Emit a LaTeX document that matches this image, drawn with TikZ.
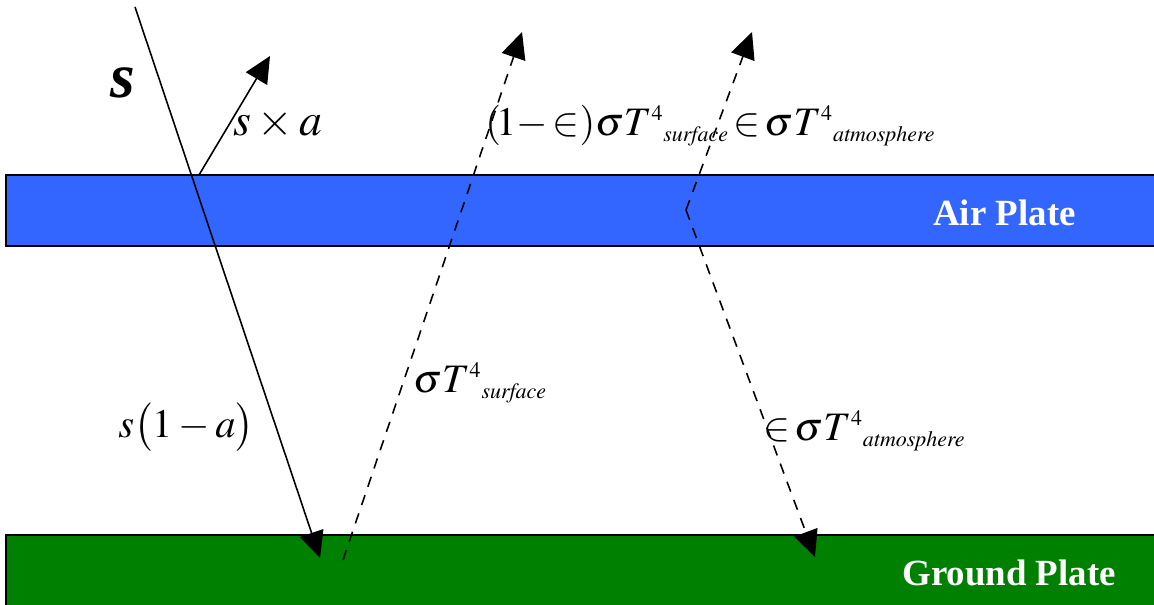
\documentclass[tikz,border=0pt]{standalone}
\usepackage{mathptmx}
\usepackage{fontspec}
\setmainfont{Liberation Serif}
\usepackage{xcolor}
\usepackage{tikz}
\usetikzlibrary{arrows.meta}
\definecolor{airblue}{RGB}{51,102,255}
\definecolor{groundgreen}{RGB}{0,128,0}
\DeclareMathSizes{23}{23}{12.5}{10}
\DeclareMathSizes{26}{26}{15}{11}
\tikzset{
  ray/.style={line width=0.9pt,-{Triangle[length=15pt,width=14pt]}},
  emission/.style={ray,dash pattern=on 6pt off 5pt},
  plateedge/.style={line width=1.3pt},
  platelabel/.style={anchor=base west,inner sep=0pt,text=white,font=\fontsize{21}{25}\selectfont\bfseries},
  fluxlabel/.style={anchor=base west,inner sep=0pt,font=\fontsize{23}{27}\selectfont},
}

\begin{document}
\begin{tikzpicture}[x=0.02cm,y=-0.02cm]
 \useasboundingbox (0,0) rectangle (1154,605);
 \fill[airblue] (6,175) rectangle (1160,246);
 \draw[plateedge] (1160,175)--(6,175)--(6,246)--(1160,246);
 \fill[groundgreen] (6,535) rectangle (1160,612);
 \draw[plateedge] (1160,535)--(6,535)--(6,612);
 \node[platelabel] (air) at (933,225) {Air Plate};
 \node[platelabel] (ground) at (902,585) {Ground Plate};
 \coordinate (sun) at (135,7);
 \coordinate (absorbed) at (320,558);
 \coordinate (hit) at (199,175);
 \coordinate (reflected) at (270,56);
 \coordinate (surface) at (343,560);
 \coordinate (surfaceup) at (522,32);
 \coordinate (emit) at (686,210);
 \coordinate (atmosup) at (752,32);
 \coordinate (atmosdown) at (815,557);
 \draw[ray] (sun)--(absorbed);
 \draw[ray] (hit)--(reflected);
 \draw[emission] (surface)--(surfaceup);
 \draw[emission] (emit)--(atmosup);
 \draw[emission] (emit)--(atmosdown);
 \node[anchor=base west,inner sep=0pt,font=\fontsize{36}{40}\selectfont] (s) at (110,97) {\textbf{\textit{s}}};
 \node[anchor=base west,inner sep=0pt,font=\fontsize{26}{30}\selectfont] (sa) at (233,135) {$s\times a$};
 \node[fluxlabel] (top) at (485,135) {$(\!1{-}\,{\in})\sigma T^{4}{}_{\mathit{surface}}\,{\in}\,\sigma T^{4}{}_{\mathit{atmosphere}}$};
 \node[fluxlabel] (up) at (413,392) {$\sigma T^{4}{}_{\mathit{surface}}$};
 \node[fluxlabel] (down) at (763,440) {${\in}\,\sigma T^{4}{}_{\mathit{atmosphere}}$};
 \node[fluxlabel] (s1a) at (118,437) {$s\bigl(1-a\bigr)$};
\end{tikzpicture}
\end{document}
